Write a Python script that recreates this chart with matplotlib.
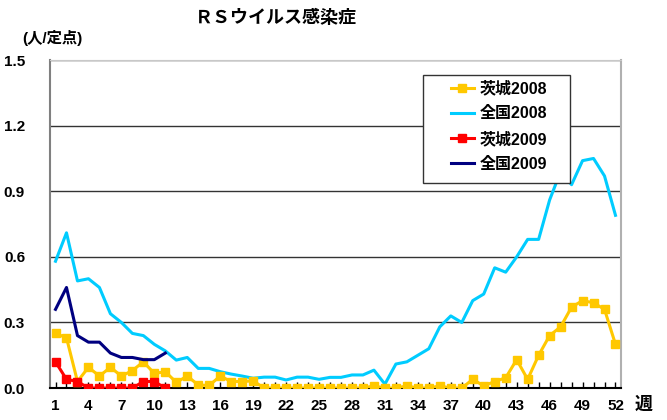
import matplotlib
matplotlib.use("Agg")
import matplotlib.pyplot as plt
from matplotlib.ticker import MultipleLocator
from matplotlib.patches import Rectangle

plt.rcParams['font.family'] = ['Liberation Sans', 'Noto Sans CJK JP']
plt.rcParams['font.weight'] = 'bold'

# === data ===
weeks = list(range(1, 53))

ibaraki_2008 = [0.25, 0.23, 0.03, 0.095, 0.055, 0.095, 0.055, 0.08, 0.12, 0.067,
                0.075, 0.026, 0.055, 0.014, 0.012, 0.055, 0.03, 0.03, 0.033, 0.0,
                0.0, 0.0, 0.0, 0.0, 0.0, 0.0, 0.0, 0.0, 0.0, 0.01,
                0.0, 0.0, 0.01, 0.0, 0.0, 0.01, 0.0, 0.0, 0.04, 0.01,
                0.03, 0.047, 0.13, 0.04, 0.15, 0.24, 0.28, 0.37, 0.40, 0.39,
                0.36, 0.20]

zenkoku_2008 = [0.58, 0.71, 0.49, 0.50, 0.46, 0.34, 0.30, 0.25, 0.24, 0.20,
                0.17, 0.128, 0.14, 0.09, 0.09, 0.075, 0.064, 0.055, 0.045, 0.05,
                0.05, 0.037, 0.05, 0.05, 0.04, 0.049, 0.049, 0.06, 0.06, 0.082,
                0.018, 0.11, 0.12, 0.15, 0.18, 0.28, 0.33, 0.30, 0.40, 0.43,
                0.55, 0.53, 0.60, 0.68, 0.68, 0.86, 0.99, 0.93, 1.04, 1.05,
                0.97, 0.79]

weeks_2009 = list(range(1, 12))
ibaraki_2009 = [0.12, 0.04, 0.03, 0.0, 0.0, 0.0, 0.0, 0.0, 0.03, 0.03, 0.0]
zenkoku_2009 = [0.36, 0.46, 0.24, 0.21, 0.21, 0.16, 0.14, 0.14, 0.13, 0.13, 0.16]

x_ticks = list(range(1, 53, 3))
y_ticks = [0.0, 0.3, 0.6, 0.9, 1.2, 1.5]

# === plot ===
fig = plt.figure(figsize=(6.67, 4.20), dpi=100)
ax = fig.add_axes([0.075, 0.076, 0.856, 0.781])

ax.plot(weeks, ibaraki_2008, color='#FFC800', lw=2.2, marker='s', ms=6,
        label='茨城2008', zorder=3)
ax.plot(weeks, zenkoku_2008, color='#00CCFF', lw=2.2, label='全国2008', zorder=2)
ax.plot(weeks_2009, ibaraki_2009, color='#FF0000', lw=2.2, marker='s', ms=6,
        label='茨城2009', zorder=4)
ax.plot(weeks_2009, zenkoku_2009, color='#000080', lw=2.2, label='全国2009', zorder=4)

ax.set_xlim(0.5, 52.5)
ax.set_ylim(0, 1.5)
ax.set_xticks(x_ticks)
ax.xaxis.set_minor_locator(MultipleLocator(1))
ax.set_yticks(y_ticks)
ax.set_yticklabels([f"{v:.1f}" for v in y_ticks])
ax.tick_params(axis='x', which='both', direction='in', length=4, width=1,
               labelsize=11, pad=8)
ax.tick_params(axis='y', length=0, labelsize=11, pad=18)
for lab in ax.get_xticklabels() + ax.get_yticklabels():
    lab.set_fontweight('bold')

ax.grid(axis='y', color='#333333', lw=1)
ax.set_axisbelow(True)
ax.spines['bottom'].set_color('black')
ax.spines['bottom'].set_linewidth(1.5)
ax.spines['left'].set_color('#808080')
ax.spines['left'].set_linewidth(1.5)
ax.spines['right'].set_color('#b0b0b0')
ax.spines['right'].set_linewidth(1.5)
ax.spines['top'].set_color('#c8c8c8')

# legend box drawn separately so the padding can be wider than tall
box = Rectangle((0.634, 0.564), 0.221, 0.257, transform=fig.transFigure,
                facecolor='white', edgecolor='#333333', lw=1, zorder=5)
ax.add_patch(box)
box.set_clip_on(False)
leg = ax.legend(loc='upper left', bbox_to_anchor=(0.676, 0.808),
                bbox_transform=fig.transFigure, frameon=False,
                handlelength=1.45, handletextpad=0.35, borderpad=0,
                borderaxespad=0, labelspacing=0.62,
                prop={'size': 11.5, 'weight': 'bold'})
leg.set_zorder(6)

fig.text(0.413, 0.955, 'ＲＳウイルス感染症', ha='center', va='center',
         fontsize=13, fontweight='bold')
fig.text(0.033, 0.91, '(人/定点)', ha='left', va='center',
         fontsize=11, fontweight='bold')
fig.text(0.965, 0.035, '週', ha='center', va='center',
         fontsize=13, fontweight='bold')

fig.savefig('out.png', dpi=100)
